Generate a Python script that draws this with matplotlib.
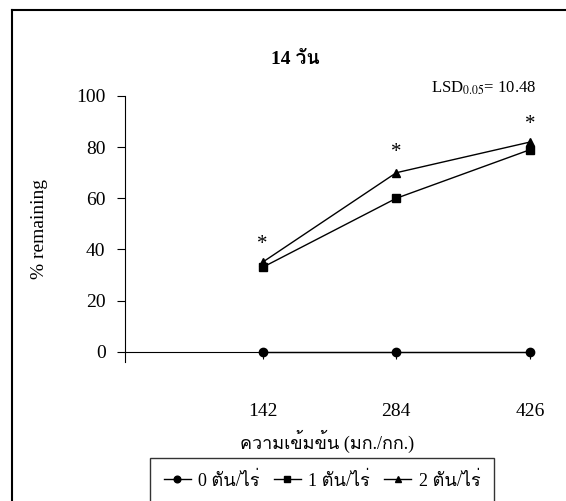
import matplotlib
matplotlib.use("Agg")
import matplotlib.pyplot as plt
from matplotlib import font_manager
from matplotlib.ft2font import FT2Font
from matplotlib.lines import Line2D

conc = [142, 284, 426]
rate0 = [0, 0, 0]
rate1 = [33, 60, 79]
rate2 = [35, 70, 82]
star_y = [42, 78, 89]
labels = ["0 ตัน/ไร่", "1 ตัน/ไร่", "2 ตัน/ไร่"]


def thai_fonts():
    found = []
    for f in font_manager.fontManager.ttflist:
        try:
            if 0x0E27 in FT2Font(f.fname).get_charmap() and f.name not in found:
                found.append(f.name)
        except Exception:
            pass
    return found


thai = thai_fonts()
plt.rcParams["font.family"] = ["Liberation Serif"] + thai + ["DejaVu Sans"]
plt.rcParams["mathtext.fontset"] = "stix"

fig = plt.figure(figsize=(5.66, 5.01), dpi=100)
ax = fig.add_axes([125 / 566, 1 - 362 / 501, 405 / 566, 266 / 501])

ax.plot(conc, rate0, "k-", marker="o", ms=6, lw=1, clip_on=False, label=labels[0])
ax.plot(conc, rate1, "k-", marker="s", ms=6, lw=1, clip_on=False, label=labels[1])
ax.plot(conc, rate2, "k-", marker="^", ms=6, lw=1, clip_on=False, label=labels[2])
for x, y in zip(conc, star_y):
    ax.text(x, y, "*", ha="center", va="center", fontsize=15)

ax.set_xlim(-4, 426)
ax.set_ylim(-4, 100)
ax.spines["top"].set_visible(False)
ax.spines["right"].set_visible(False)
ax.spines["bottom"].set_position(("data", 0))
ax.set_xticks(conc)
ax.set_yticks([0, 20, 40, 60, 80, 100])
ax.tick_params(axis="x", direction="out", length=5, pad=32, labelsize=14)
ax.tick_params(axis="y", direction="out", length=6, pad=8, labelsize=14)
ax.set_ylabel("% remaining", fontsize=14)
ax.yaxis.set_label_coords(-0.19, 0.5)
ax.text(0.5, -0.30, "ความเข้มข้น (มก./กก.)", transform=ax.transAxes,
        ha="center", va="center", fontsize=13)

fig.text(295 / 566, 1 - 59 / 501, "14 วัน", ha="center", va="center",
         fontsize=14, fontweight="bold")
fig.text(536 / 566, 1 - 88 / 501, r"LSD$_{0.05}$= 10.48", ha="right",
         va="center", fontsize=12)

leg = fig.legend(loc="upper center", bbox_to_anchor=(322 / 566, 1 - 458 / 501),
                 ncol=3, frameon=True, fancybox=False, edgecolor="black",
                 fontsize=13, handlelength=1.5, handletextpad=0.4,
                 columnspacing=0.8, borderpad=0.75, markerscale=0.8,
                 borderaxespad=0)
leg.get_frame().set_linewidth(1)

fig.add_artist(Line2D([12 / 566, 12 / 566], [0, 1 - 10 / 501], color="black", lw=1.5))
fig.add_artist(Line2D([12 / 566, 1], [1 - 10 / 501, 1 - 10 / 501], color="black", lw=1.5))

fig.savefig("out.png", dpi=100)
